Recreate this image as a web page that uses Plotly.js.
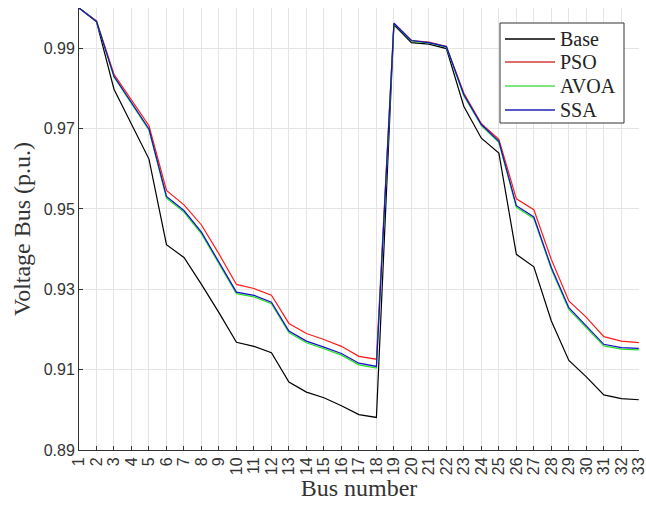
<!DOCTYPE html>
<html>
<head>
<meta charset="utf-8">
<script src="https://cdn.plot.ly/plotly-3.0.1.min.js"></script>
<style>
  html, body { margin: 0; padding: 0; background: #ffffff; }
  #chart { width: 646px; height: 506px; }
</style>
</head>
<body>
<div id="chart"></div>
<script>
// Bus numbers of the 33-bus feeder
const buses = Array.from({length: 33}, (_, i) => i + 1);

// Bus voltages (p.u.) for each case
const baseV = [1.0000, 0.9966, 0.9798, 0.9711, 0.9624, 0.9411, 0.9379, 0.9312, 0.9242, 0.9168,
               0.9158, 0.9142, 0.9069, 0.9044, 0.9030, 0.9010, 0.8988, 0.8981, 0.9958, 0.9914,
               0.9910, 0.9899, 0.9755, 0.9676, 0.9639, 0.9387, 0.9356, 0.9221, 0.9123, 0.9082,
               0.9037, 0.9028, 0.9025];
const psoV  = [1.0000, 0.9968, 0.9835, 0.9771, 0.9707, 0.9546, 0.9510, 0.9460, 0.9388, 0.9312,
               0.9302, 0.9285, 0.9215, 0.9190, 0.9175, 0.9158, 0.9133, 0.9126, 0.9962, 0.9919,
               0.9915, 0.9904, 0.9788, 0.9712, 0.9673, 0.9525, 0.9498, 0.9374, 0.9271, 0.9230,
               0.9182, 0.9171, 0.9167];
const avoaV = [1.0000, 0.9967, 0.9828, 0.9762, 0.9696, 0.9527, 0.9492, 0.9438, 0.9364, 0.9289,
               0.9281, 0.9264, 0.9192, 0.9167, 0.9152, 0.9136, 0.9112, 0.9104, 0.9961, 0.9918,
               0.9913, 0.9903, 0.9781, 0.9707, 0.9665, 0.9504, 0.9476, 0.9350, 0.9250, 0.9205,
               0.9159, 0.9151, 0.9149];
const ssaV  = [1.0000, 0.9967, 0.9830, 0.9765, 0.9699, 0.9531, 0.9496, 0.9442, 0.9368, 0.9293,
               0.9285, 0.9268, 0.9196, 0.9171, 0.9156, 0.9140, 0.9116, 0.9108, 0.9962, 0.9919,
               0.9914, 0.9904, 0.9784, 0.9710, 0.9668, 0.9508, 0.9480, 0.9354, 0.9254, 0.9209,
               0.9163, 0.9155, 0.9153];

const seriesNames = ['Base', 'PSO', 'AVOA', 'SSA'];
const yTicks = [0.89, 0.91, 0.93, 0.95, 0.97, 0.99];

const colors = ['#000000', '#ff1a1a', '#22e022', '#1010c8'];
const legendColors = ['#000000', '#d23c3c', '#55dd55', '#2020b4'];
const values = [baseV, psoV, avoaV, ssaV];

const traces = values.map((v, i) => ({
  type: 'scatter',
  mode: 'lines',
  name: seriesNames[i],
  x: buses,
  y: v,
  showlegend: false,
  line: {color: colors[i], width: 1.2}
}));

const serif = 'Liberation Serif, Times New Roman, serif';
const sans = 'Liberation Sans, Arial, sans-serif';

// Plot area geometry (pixels) used to lay out the boxed legend
const W = 646, H = 506;
const M = {l: 79, r: 7, t: 8, b: 56};
const PW = W - M.l - M.r, PH = H - M.t - M.b;
const px = x => (x - M.l) / PW;
const py = y => 1 - (y - M.t) / PH;

// Boxed legend in the upper right corner
const legBox = {x0: 500, x1: 624, y0: 23, y1: 123};
const legRows = [39, 62, 86, 110];
const shapes = [{
  type: 'rect', xref: 'paper', yref: 'paper',
  x0: px(legBox.x0), x1: px(legBox.x1), y0: py(legBox.y1), y1: py(legBox.y0),
  line: {color: '#333333', width: 1}, fillcolor: '#ffffff', layer: 'above'
}];
const annotations = [];
seriesNames.forEach((name, i) => {
  shapes.push({
    type: 'line', xref: 'paper', yref: 'paper',
    x0: px(505), x1: px(555), y0: py(legRows[i]), y1: py(legRows[i]),
    line: {color: legendColors[i], width: 1.4}, layer: 'above'
  });
  annotations.push({
    xref: 'paper', yref: 'paper', x: px(558), y: py(legRows[i]),
    xanchor: 'left', yanchor: 'middle', showarrow: false,
    text: name, font: {family: serif, size: 20, color: '#222222'}
  });
});

const layout = {
  width: W,
  height: H,
  margin: M,
  paper_bgcolor: '#ffffff',
  plot_bgcolor: '#ffffff',
  showlegend: false,
  shapes: shapes,
  annotations: annotations,
  xaxis: {
    range: [1, 33.01],
    tickmode: 'array',
    tickvals: buses,
    ticktext: buses.map(String),
    tickangle: -90,
    ticklabeloverflow: 'allow',
    ticks: 'inside', ticklen: 4, tickcolor: '#333333',
    showgrid: true, gridcolor: '#e4e4e4', gridwidth: 1,
    showline: true, linecolor: '#333333', linewidth: 1,
    zeroline: false,
    tickfont: {family: sans, size: 16, color: '#333333'},
    title: {text: 'Bus number', font: {family: serif, size: 24, color: '#333333'}, standoff: 5},
    automargin: false
  },
  yaxis: {
    range: [0.89, 1.0],
    tickmode: 'array',
    tickvals: yTicks,
    ticktext: yTicks.map(t => t.toFixed(2)),
    ticks: 'inside', ticklen: 4, tickcolor: '#333333',
    showgrid: true, gridcolor: '#e4e4e4', gridwidth: 1,
    showline: true, linecolor: '#333333', linewidth: 1,
    zeroline: false,
    tickfont: {family: sans, size: 16, color: '#333333'},
    title: {text: 'Voltage Bus (p.u.)', font: {family: serif, size: 24, color: '#333333'}, standoff: 6},
    automargin: false
  }
};

Plotly.newPlot('chart', traces, layout, {displayModeBar: false, staticPlot: true});
</script>
</body>
</html>
